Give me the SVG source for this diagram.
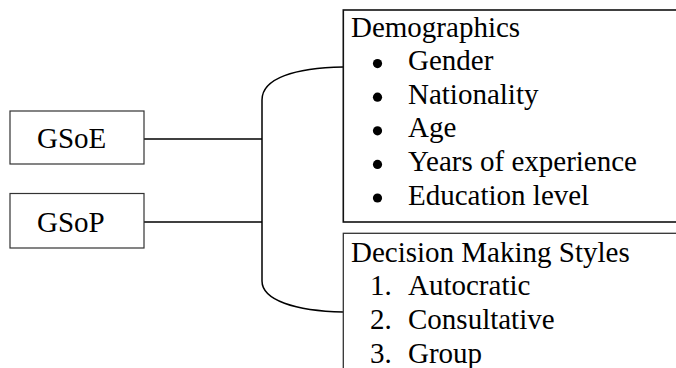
<svg xmlns="http://www.w3.org/2000/svg" width="676" height="368" viewBox="0 0 676 368">
<style>
.t{font-family:"Liberation Serif","Times New Roman",serif;font-size:29px;fill:#000}
.box{fill:#fff;stroke:#333;stroke-width:1.2}
.panel{fill:#fff;stroke:#111;stroke-width:1.6}
.panel2{fill:#fff;stroke:#333;stroke-width:1.3}
.conn{fill:none;stroke:#000;stroke-width:1.5}
</style>
<rect width="676" height="368" fill="#fff"/>
<g id="connectors">
<line class="conn" x1="144" y1="139" x2="262" y2="139"/>
<line class="conn" x1="144" y1="222" x2="262" y2="222"/>
<path class="conn" d="M343,67 C295,68 262,78 262,100 L262,281 C262,300 295,311 343,312"/>
</g>
<g id="gsoe">
<rect class="box" x="10" y="111" width="134" height="53"/>
<text class="t" x="37" y="148.3">GSoE</text>
</g>
<g id="gsop">
<rect class="box" x="10" y="193.5" width="134" height="54.5"/>
<text class="t" x="37" y="231.5">GSoP</text>
</g>
<g id="demographics">
<rect class="panel" x="343.3" y="10" width="340" height="212"/>
<text class="t" x="351" y="36.5">Demographics</text>
<circle cx="377.5" cy="63.6" r="4.6"/>
<text class="t" x="408" y="70.1">Gender</text>
<circle cx="377.5" cy="97.2" r="4.6"/>
<text class="t" x="408" y="103.7">Nationality</text>
<circle cx="377.5" cy="130.8" r="4.6"/>
<text class="t" x="408" y="137.3">Age</text>
<circle cx="377.5" cy="164.4" r="4.6"/>
<text class="t" x="408" y="170.9">Years of experience</text>
<circle cx="377.5" cy="198" r="4.6"/>
<text class="t" x="408" y="204.5">Education level</text>
</g>
<g id="decision">
<rect class="panel2" x="343.3" y="233.3" width="340" height="150"/>
<text class="t" x="351" y="261.7">Decision Making Styles</text>
<text class="t" x="370" y="295.3">1.</text>
<text class="t" x="408" y="295.3">Autocratic</text>
<text class="t" x="370" y="328.9">2.</text>
<text class="t" x="408" y="328.9">Consultative</text>
<text class="t" x="370" y="362.5">3.</text>
<text class="t" x="408" y="362.5">Group</text>
</g>
</svg>
